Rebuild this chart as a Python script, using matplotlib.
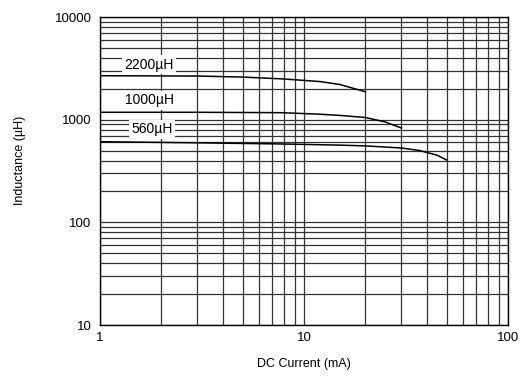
import numpy as np
import matplotlib.pyplot as plt
from matplotlib.ticker import LogLocator, FixedLocator, NullFormatter

plt.rcParams['font.family'] = ['Liberation Sans', 'DejaVu Sans']

# inductance vs DC current
i2200 = [1, 3, 5, 8, 12, 15, 20]
l2200 = [2680, 2660, 2600, 2490, 2350, 2200, 1870]
i1000 = [1, 3, 7.7, 12, 15, 20, 25, 30]
l1000 = [1180, 1180, 1170, 1130, 1100, 1050, 950, 830]
i560 = [1, 3, 7.7, 15, 20, 30, 37, 45, 50]
l560 = [610, 595, 580, 565, 555, 530, 500, 450, 405]

labels = ['2200µH', '1000µH', '560µH']
label_x = [1.74, 1.74, 1.80]
label_y = [3420, 1550, 810]

xticks = [1, 10, 100]
yticks = [10, 100, 1000, 10000]

fig = plt.figure(figsize=(5.24, 3.76), dpi=100)
ax = fig.add_axes([100/524, 1-325/376, 408/524, 308/376])

ax.set_xscale('log')
ax.set_yscale('log')
ax.set_xlim(1, 100)
ax.set_ylim(10, 10000)

ax.xaxis.set_major_locator(FixedLocator(xticks))
ax.yaxis.set_major_locator(FixedLocator(yticks))
ax.set_xticklabels([str(t) for t in xticks])
ax.set_yticklabels([str(t) for t in yticks])
ax.xaxis.set_minor_locator(LogLocator(base=10, subs=np.arange(2, 10)))
ax.yaxis.set_minor_locator(LogLocator(base=10, subs=np.arange(2, 10)))
ax.xaxis.set_minor_formatter(NullFormatter())
ax.yaxis.set_minor_formatter(NullFormatter())

ax.grid(True, which='both', color='#333333', linewidth=0.9)
ax.tick_params(which='both', length=0, labelsize=9.5)
ax.tick_params(axis='x', pad=5)
ax.tick_params(axis='y', pad=6)
for s in ax.spines.values():
    s.set_color('black')
    s.set_linewidth(1.0)

ax.plot(i2200, l2200, color='black', linewidth=1.1, zorder=3)
ax.plot(i1000, l1000, color='black', linewidth=1.1, zorder=3)
ax.plot(i560, l560, color='black', linewidth=1.1, zorder=3)

for t, x, y in zip(labels, label_x, label_y):
    ax.text(x, y, t, fontsize=10, ha='center', va='center', zorder=4,
            bbox=dict(facecolor='white', edgecolor='none', pad=1.8))

fig.text(304/524, 1-364/376, 'DC Current (mA)', fontsize=9, ha='center', va='center')
fig.text(20/524, 1-160/376, 'Inductance (µH)', fontsize=9, ha='center', va='center',
         rotation=90)

fig.savefig('out.png', dpi=100)
